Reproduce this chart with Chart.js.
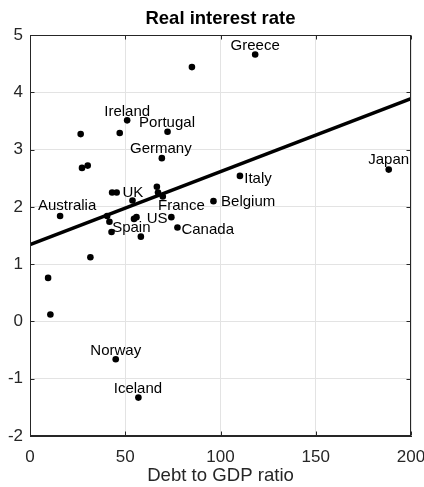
<!DOCTYPE html>
<html>
<head>
<meta charset="utf-8">
<title>Real interest rate</title>
<script src="https://cdn.jsdelivr.net/npm/chart.js@4/dist/chart.umd.min.js"></script>
<style>
  html, body { margin: 0; padding: 0; background: #ffffff; }
  #wrap { width: 424px; height: 487px; }
</style>
</head>
<body>
<div id="wrap"><canvas id="chart" width="424" height="487"></canvas></div>
<script>
// Debt-to-GDP ratio (%) and real interest rate (%) per country
const debtRatio = [
  85.0, 118.2, 51.0, 72.2, 26.6, 47.1, 69.2, 188.3, 110.2, 96.3,
  27.3, 30.3, 43.1, 45.5, 53.8, 66.6, 67.2, 69.7, 15.8, 40.5,
  41.7, 42.8, 54.6, 55.9, 58.2, 74.2, 77.4, 31.7, 9.5, 10.7,
  45.0, 56.9
];
const realRate = [
  4.44, 4.66, 3.51, 3.31, 3.27, 3.29, 2.85, 2.65, 2.54, 2.10,
  2.68, 2.72, 2.25, 2.25, 2.11, 2.35, 2.25, 2.18, 1.84, 1.84,
  1.74, 1.56, 1.79, 1.82, 1.48, 1.82, 1.64, 1.12, 0.76, 0.12,
  -0.66, -1.33
];
const countryLabel = [
  '', 'Greece', 'Ireland', 'Portugal', '', '', 'Germany', 'Japan', 'Italy', 'Belgium',
  '', '', '', 'UK', '', '', '', 'France', 'Australia', '',
  '', 'Spain', '', '', '', 'US', 'Canada', '', '', '',
  'Norway', 'Iceland'
];

// Least-squares fit line: rate = fitIntercept + fitSlope * debt
const fitIntercept = 1.34;
const fitSlope = 0.01275;

// Axis ranges and ticks
const xTicks = [0, 50, 100, 150, 200];
const yTicks = [-2, -1, 0, 1, 2, 3, 4, 5];

const chartTitle = 'Real interest rate';
const xAxisTitle = 'Debt to GDP ratio';

// Label placement relative to each marker (pixels)
const labelPlacement = {
  Greece:    { align: 'center', dx: 0,    dy: -9 },
  Ireland:   { align: 'center', dx: 0,    dy: -8.5 },
  Portugal:  { align: 'center', dx: -0.5, dy: -9.2 },
  Germany:   { align: 'center', dx: -1,   dy: -9 },
  Japan:     { align: 'center', dx: 0,    dy: -9.5 },
  Norway:    { align: 'center', dx: 0,    dy: -8.5 },
  Iceland:   { align: 'center', dx: -0.5, dy: -8.5 },
  Australia: { align: 'center', dx: 7,    dy: -10.5 },
  UK:        { align: 'left',   dx: 5.7,  dy: 0.5 },
  Italy:     { align: 'left',   dx: 4.3,  dy: 2.5 },
  Belgium:   { align: 'left',   dx: 7.6,  dy: 1 },
  Canada:    { align: 'left',   dx: 4,    dy: 2 },
  France:    { align: 'left',   dx: -4.7, dy: 9.5 },
  US:        { align: 'right',  dx: -3.8, dy: 2 },
  Spain:     { align: 'left',   dx: 0.6,  dy: -4 }
};

const FONT = "'Liberation Sans', Arial, Helvetica, sans-serif";
const AXIS_COLOR = '#262626';
const GRID_COLOR = '#e3e3e3';

const points = debtRatio.map((d, i) => ({ x: d, y: realRate[i] }));
const xMin = xTicks[0], xMax = xTicks[xTicks.length - 1];
const fitLine = [
  { x: xMin, y: fitIntercept + fitSlope * xMin },
  { x: xMax, y: fitIntercept + fitSlope * xMax }
];

// Box around the plot plus inward tick marks on all four sides
const axesBox = {
  id: 'axesBox',
  afterDraw(chart) {
    const { ctx, chartArea: a, scales } = chart;
    const L = Math.round(a.left) + 0.5, R = Math.round(a.right) - 0.5;
    const T = Math.round(a.top) + 0.5, B = Math.round(a.bottom) - 0.5;
    const len = 4;
    ctx.save();
    ctx.strokeStyle = AXIS_COLOR;
    ctx.lineWidth = 1;
    ctx.beginPath();
    xTicks.forEach(v => {
      const px = Math.round(scales.x.getPixelForValue(v)) + 0.5;
      ctx.moveTo(px, B); ctx.lineTo(px, B - len);
      ctx.moveTo(px, T); ctx.lineTo(px, T + len);
    });
    yTicks.forEach(v => {
      const py = Math.round(scales.y.getPixelForValue(v)) + 0.5;
      ctx.moveTo(L, py); ctx.lineTo(L + len, py);
      ctx.moveTo(R, py); ctx.lineTo(R - len, py);
    });
    ctx.stroke();
    ctx.strokeRect(L, T, R - L, B - T);
    ctx.restore();
  }
};

// Title centred over the plot area
const plotTitle = {
  id: 'plotTitle',
  afterDraw(chart) {
    const { ctx, chartArea: a } = chart;
    ctx.save();
    ctx.font = 'bold 18.5px ' + FONT;
    ctx.fillStyle = '#000000';
    ctx.textAlign = 'center';
    ctx.textBaseline = 'middle';
    ctx.fillText(chartTitle, (a.left + a.right) / 2, a.top - 16);
    ctx.restore();
  }
};

// Country names next to their markers
const countryNames = {
  id: 'countryNames',
  afterDatasetsDraw(chart) {
    const { ctx } = chart;
    const meta = chart.getDatasetMeta(0);
    ctx.save();
    ctx.font = '15px ' + FONT;
    ctx.fillStyle = '#000000';
    ctx.textBaseline = 'middle';
    countryLabel.forEach((name, i) => {
      if (!name) return;
      const el = meta.data[i];
      const p = labelPlacement[name] || { align: 'left', dx: 4, dy: 0 };
      ctx.textAlign = p.align;
      ctx.fillText(name, el.x + p.dx, el.y + p.dy);
    });
    ctx.restore();
  }
};

new Chart(document.getElementById('chart'), {
  type: 'scatter',
  data: {
    datasets: [
      {
        label: 'Countries',
        data: points,
        backgroundColor: '#000000',
        borderWidth: 0,
        pointRadius: 3.3,
        order: 1
      },
      {
        type: 'line',
        label: 'Fit',
        data: fitLine,
        borderColor: '#000000',
        borderWidth: 3.5,
        pointRadius: 0,
        fill: false,
        order: 2
      }
    ]
  },
  options: {
    responsive: false,
    devicePixelRatio: 1,
    animation: false,
    layout: { padding: { left: 0, right: 13, top: 35, bottom: 0 } },
    plugins: {
      legend: { display: false },
      tooltip: { enabled: false },
      title: { display: false }
    },
    scales: {
      x: {
        type: 'linear',
        min: xMin,
        max: xMax,
        afterBuildTicks(scale) { scale.ticks = xTicks.map(v => ({ value: v })); },
        afterFit(scale) {
          scale.height = 51;
          scale.paddingLeft = 0;
          scale.paddingRight = 0;
        },
        ticks: {
          color: AXIS_COLOR,
          font: { family: FONT, size: 17 },
          padding: 11,
          maxRotation: 0,
          autoSkip: false
        },
        grid: { color: GRID_COLOR, drawTicks: false },
        border: { color: AXIS_COLOR, width: 1 },
        title: {
          display: true,
          text: xAxisTitle,
          color: AXIS_COLOR,
          font: { family: FONT, size: 18.6 },
          padding: { top: 0, bottom: 0 }
        }
      },
      y: {
        type: 'linear',
        min: yTicks[0],
        max: yTicks[yTicks.length - 1],
        afterBuildTicks(scale) { scale.ticks = yTicks.map(v => ({ value: v })); },
        afterFit(scale) {
          scale.width = 30;
          scale.paddingTop = 0;
          scale.paddingBottom = 0;
        },
        ticks: {
          color: AXIS_COLOR,
          font: { family: FONT, size: 17 },
          padding: 7,
          autoSkip: false
        },
        grid: { color: GRID_COLOR, drawTicks: false },
        border: { color: AXIS_COLOR, width: 1 }
      }
    }
  },
  plugins: [countryNames, axesBox, plotTitle]
});
</script>
</body>
</html>
